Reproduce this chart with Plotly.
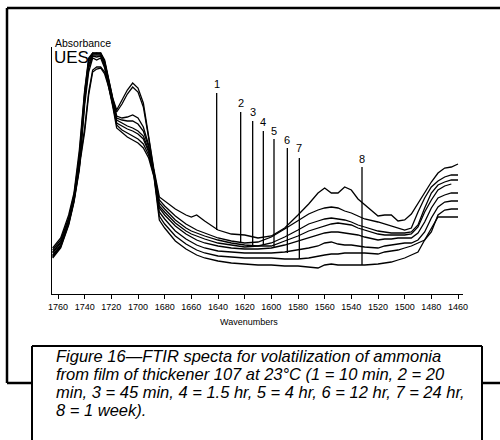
import plotly.graph_objects as go

# ---------------- data ----------------
wavenumbers = [1764, 1758, 1752, 1748, 1744, 1740, 1737, 1734, 1731, 1728, 1725, 1722, 1719, 1716,
               1712, 1708, 1704, 1700, 1696, 1692, 1688, 1684, 1680, 1672, 1664, 1660, 1656, 1650,
               1640, 1630, 1620, 1610, 1600, 1590, 1580, 1572, 1565, 1560, 1555, 1550, 1545, 1540,
               1535, 1530, 1520, 1515, 1510, 1505, 1500, 1495, 1490, 1485, 1480, 1475, 1470, 1465, 1460]

# absorbance, arbitrary units (axis carries no numeric labels)
abs_1 = [46, 56, 79, 101, 144, 204, 236, 241, 241, 241, 234, 216, 196, 184, 194, 204, 211, 206, 191, 159,
         124, 97, 93, 85, 79, 77, 79, 73, 64, 60, 59, 56, 58, 66, 79, 90, 101, 106, 101, 101,
         107, 104, 95, 89, 78, 79, 79, 73, 74, 80, 91, 101, 112, 121, 126, 127, 130]
abs_2 = [44, 54, 76, 99, 139, 202, 234, 241, 240, 241, 232, 214, 194, 182, 190, 200, 207, 202, 187, 156,
         122, 94, 88, 78, 70, 67, 64, 61, 56, 53, 51, 52, 57, 65, 73, 80, 84, 86, 87, 86,
         83, 81, 78, 75, 72, 70, 68, 66, 64, 66, 82, 96, 107, 113, 117, 119, 119]
abs_3 = [42, 52, 74, 97, 134, 199, 232, 240, 241, 240, 232, 214, 194, 178, 176, 177, 179, 176, 167, 149,
         122, 91, 85, 74, 66, 63, 61, 58, 54, 51, 49, 48, 51, 57, 64, 70, 73, 75, 76, 75,
         74, 72, 69, 67, 63, 62, 61, 61, 61, 62, 69, 86, 101, 109, 112, 114, 114]
abs_4 = [41, 51, 73, 96, 132, 194, 229, 239, 239, 239, 230, 212, 192, 176, 174, 173, 173, 170, 163, 147,
         121, 88, 82, 71, 63, 60, 58, 55, 51, 49, 47, 48, 48, 53, 58, 63, 66, 68, 70, 71,
         70, 69, 66, 64, 60, 59, 59, 59, 59, 60, 67, 82, 94, 104, 108, 110, None]
abs_5 = [39, 49, 72, 95, 129, 166, 202, 224, 227, 227, 222, 209, 192, 174, 171, 168, 166, 163, 158, 144,
         120, 86, 79, 68, 60, 57, 54, 51, 48, 46, 45, 45, 46, 49, 53, 56, 59, 61, 62, 62,
         61, 60, 59, 57, 54, 55, 55, 56, 56, 56, 61, 72, 86, 96, 99, 101, 101]
abs_6 = [38, 48, 71, 94, 127, 162, 199, 222, 225, 226, 220, 207, 190, 171, 168, 165, 163, 160, 155, 142,
         119, 82, 75, 63, 55, 52, 49, 46, 43, 42, 41, 41, 41, 42, 44, 46, 48, 51, 52, 50,
         49, 49, 48, 47, 46, 48, 49, 50, 51, 51, 54, 62, 76, 87, 92, 93, 93]
abs_7 = [37, 47, 70, 93, 126, 194, 226, 238, 237, 238, 228, 210, 190, 169, 164, 161, 158, 155, 150, 139,
         118, 78, 70, 58, 50, 47, 44, 41, 38, 37, 36, 36, 36, 35, 35, 36, 38, 39, 40, 40,
         41, 41, 41, 41, 40, 42, 43, 44, 46, 48, 51, 54, 62, 79, 84, 85, 85]
abs_8 = [36, 46, 69, 92, 124, 189, 222, 236, 234, 236, 226, 208, 188, 166, 161, 157, 154, 151, 146, 136,
         117, 74, 66, 53, 45, 42, 39, 36, 33, 31, 30, 29, 29, 28, 28, 27, 26, 29, 30, 29,
         29, 29, 29, 29, 30, 31, 32, 34, 36, 39, 42, 54, 66, 77, 77, 77, 77]

spectra = [abs_1, abs_2, abs_3, abs_4, abs_5, abs_6, abs_7, abs_8]

# curve labels 1..8 with their leader lines
label_text = ["1", "2", "3", "4", "5", "6", "7", "8"]
label_wn = [1641, 1623, 1614, 1606, 1598, 1588, 1579, 1532]
label_y = [210, 191, 182, 172, 163, 154, 146, 135]
leader_top = [201, 182, 173, 163, 155, 146, 136, 127]
leader_bottom = [64, 51, 47, 49, 46, 41, 35, 29]

tick_values = [1760, 1740, 1720, 1700, 1680, 1660, 1640, 1620, 1600, 1580,
               1560, 1540, 1520, 1500, 1480, 1460]

caption_lines = [
    "Figure 16\u2014FTIR specta for volatilization of ammonia",
    "from film of thickener 107 at 23\u00b0C (1 = 10 min, 2 = 20",
    "min, 3 = 45 min, 4 = 1.5 hr, 5 = 4 hr, 6 = 12 hr, 7 = 24 hr,",
    "8 = 1 week).",
]

# ---------------- layout geometry (pixels) ----------------
W, H = 500, 440
L, R, T, B = 52, 463, 47, 294


def px_x(p):
    return (p - L) / (R - L)


def px_y(p):
    return (B - p) / (B - T)


fig = go.Figure()
for s in spectra:
    fig.add_trace(go.Scatter(x=wavenumbers, y=s, mode="lines",
                             line=dict(color="black", width=1.3),
                             showlegend=False, hoverinfo="skip"))

shapes = []
annotations = []
for t, wx, ly, top, bot in zip(label_text, label_wn, label_y, leader_top, leader_bottom):
    shapes.append(dict(type="line", xref="x", yref="y", x0=wx, x1=wx, y0=bot, y1=top,
                       line=dict(color="black", width=1.3)))
    annotations.append(dict(x=wx, y=ly, xref="x", yref="y", text=t, showarrow=False,
                            font=dict(family="Liberation Sans, Arial", size=11, color="black"),
                            xanchor="center", yanchor="middle"))

# outer frame and caption box
frame = dict(color="black", width=2.5)
shapes += [
    dict(type="line", xref="paper", yref="paper", x0=px_x(7), x1=px_x(502), y0=px_y(8), y1=px_y(8), line=frame),
    dict(type="line", xref="paper", yref="paper", x0=px_x(7), x1=px_x(7), y0=px_y(8), y1=px_y(383), line=frame),
    dict(type="line", xref="paper", yref="paper", x0=px_x(7), x1=px_x(32), y0=px_y(383), y1=px_y(383), line=frame),
    dict(type="line", xref="paper", yref="paper", x0=px_x(482), x1=px_x(502), y0=px_y(383), y1=px_y(383), line=frame),
    dict(type="line", xref="paper", yref="paper", x0=px_x(32), x1=px_x(482), y0=px_y(346), y1=px_y(346),
         line=dict(color="black", width=2)),
    dict(type="line", xref="paper", yref="paper", x0=px_x(32), x1=px_x(32), y0=px_y(346), y1=px_y(445),
         line=dict(color="black", width=2)),
    dict(type="line", xref="paper", yref="paper", x0=px_x(482), x1=px_x(482), y0=px_y(346), y1=px_y(445),
         line=dict(color="black", width=2)),
]

annotations += [
    dict(x=px_x(53), y=px_y(43), xref="paper", yref="paper", text="Absorbance", showarrow=False,
         xanchor="left", yanchor="middle", font=dict(family="Liberation Sans, Arial", size=10.5, color="black")),
    dict(x=px_x(52), y=px_y(57), xref="paper", yref="paper", text="UES", showarrow=False,
         xanchor="left", yanchor="middle", font=dict(family="Liberation Sans, Arial", size=17, color="black")),
    dict(x=px_x(249), y=px_y(322), xref="paper", yref="paper", text="Wavenumbers", showarrow=False,
         xanchor="center", yanchor="middle", font=dict(family="Liberation Sans, Arial", size=9, color="black")),
]
for i, line in enumerate(caption_lines):
    annotations.append(dict(x=px_x(54), y=px_y(356 + 18 * i), xref="paper", yref="paper",
                            text="<i>" + line + "</i>", showarrow=False, xanchor="left", yanchor="middle",
                            font=dict(family="Liberation Sans, Arial", size=16.5, color="black")))

fig.update_layout(
    width=W, height=H,
    margin=dict(l=L, r=W - R, t=T, b=H - B, pad=0),
    paper_bgcolor="white", plot_bgcolor="white",
    shapes=shapes, annotations=annotations,
    xaxis=dict(range=[1764.5, 1456.25], showgrid=False, zeroline=False, showline=True,
               linecolor="black", linewidth=1.3, ticks="outside", ticklen=4, tickwidth=1.2,
               tickcolor="black", tickvals=tick_values, ticktext=[str(v) for v in tick_values],
               tickfont=dict(family="Liberation Sans, Arial", size=9, color="black")),
    yaxis=dict(range=[0, 247], showgrid=False, zeroline=False, showline=True,
               linecolor="black", linewidth=1.3, showticklabels=False, ticks=""),
)

fig.write_html("out.html")
